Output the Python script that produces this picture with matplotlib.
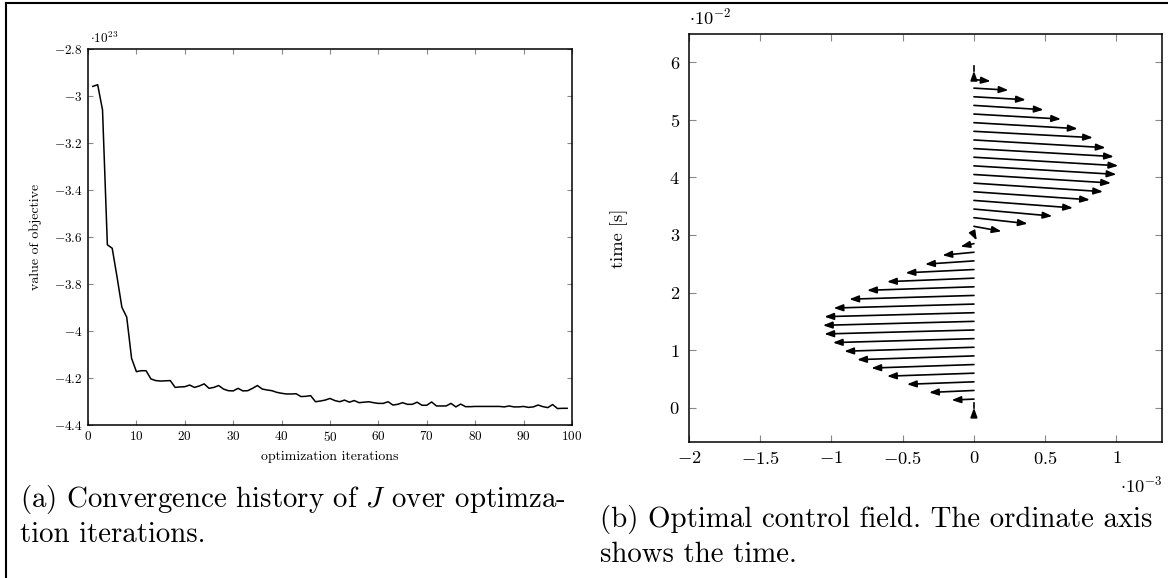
import matplotlib
matplotlib.use("Agg")
import matplotlib.pyplot as plt
from matplotlib.lines import Line2D
import numpy as np

plt.rcParams['font.family'] = 'serif'
plt.rcParams['font.serif'] = ['cmr10', 'DejaVu Serif']
plt.rcParams['mathtext.fontset'] = 'cm'
plt.rcParams['axes.unicode_minus'] = False

# ---- (a) convergence history, objective in units of 1e23
iterations = list(range(1, 100))
objective = [
    -2.959, -2.952, -3.059, -3.633, -3.648, -3.770, -3.899, -3.941, -4.116, -4.173,
    -4.169, -4.169, -4.204, -4.211, -4.213, -4.212, -4.211, -4.240, -4.238, -4.237,
    -4.230, -4.240, -4.234, -4.225, -4.244, -4.240, -4.232, -4.247, -4.254, -4.255,
    -4.244, -4.255, -4.254, -4.244, -4.232, -4.247, -4.251, -4.254, -4.261, -4.265,
    -4.268, -4.268, -4.267, -4.279, -4.278, -4.275, -4.301, -4.298, -4.294, -4.287,
    -4.296, -4.301, -4.294, -4.303, -4.296, -4.305, -4.303, -4.301, -4.305, -4.308,
    -4.308, -4.301, -4.315, -4.312, -4.305, -4.312, -4.312, -4.303, -4.316, -4.316,
    -4.302, -4.319, -4.319, -4.319, -4.308, -4.323, -4.311, -4.322, -4.322, -4.321,
    -4.321, -4.321, -4.321, -4.321, -4.321, -4.323, -4.319, -4.323, -4.323, -4.321,
    -4.325, -4.323, -4.315, -4.322, -4.326, -4.313, -4.330, -4.329, -4.329,
]
a_xticks = [0, 10, 20, 30, 40, 50, 60, 70, 80, 90, 100]
a_yticks = [-4.4, -4.2, -4.0, -3.8, -3.6, -3.4, -3.2, -3.0, -2.8]
a_yticklabels = ['-4.4', '-4.2', '-4', '-3.8', '-3.6', '-3.4', '-3.2', '-3', '-2.8']

# ---- (b) control field: time in 1e-2 s, u in 1e-3, v (small ordinate part) in 1e-2
time_e2 = [0.00, 0.15, 0.30, 0.45, 0.60, 0.75, 0.90, 1.05, 1.20, 1.35,
           1.50, 1.65, 1.80, 1.95, 2.10, 2.25, 2.40, 2.55, 2.70, 2.85,
           3.00, 3.15, 3.30, 3.45, 3.60, 3.75, 3.90, 4.05, 4.20, 4.35,
           4.50, 4.65, 4.80, 4.95, 5.10, 5.25, 5.40, 5.55, 5.70, 5.85]
u_e3 = [0.0, -0.157, -0.315, -0.47, -0.61, -0.72, -0.82, -0.91, -0.99, -1.05,
        -1.06, -1.05, -0.985, -0.875, -0.75, -0.61, -0.48, -0.343, -0.221, -0.094,
        0.02, 0.193, 0.377, 0.55, 0.695, 0.814, 0.906, 0.962, 1.0, 1.013,
        0.982, 0.924, 0.835, 0.728, 0.611, 0.489, 0.364, 0.242, 0.117, 0.0]
v_e2 = [0.0, -0.017, -0.035, -0.043, -0.052, -0.061, -0.065, -0.069, -0.069, -0.069,
        -0.069, -0.069, -0.069, -0.065, -0.061, -0.061, -0.057, -0.057, -0.052, -0.052,
        -0.095, -0.087, -0.104, -0.122, -0.13, -0.139, -0.148, -0.148, -0.148, -0.148,
        -0.139, -0.134, -0.11, -0.104, -0.087, -0.075, -0.052, -0.035, -0.03, 0.0]
b_xticks = [-2, -1.5, -1, -0.5, 0, 0.5, 1]
b_xticklabels = ['-2', '-1.5', '-1', '-0.5', '0', '0.5', '1']
b_yticks = [0, 1, 2, 3, 4, 5, 6]

fig = plt.figure(figsize=(11.68, 5.78), dpi=100)

def style_axes(ax, size, ticklen, padx, pady):
    for s in ax.spines.values():
        s.set_linewidth(1.1)
        s.set_color('black')
    ax.tick_params(direction='in', top=True, right=True, length=ticklen,
                   width=0.8, color='#888888', labelsize=size)
    ax.tick_params(axis='x', pad=padx)
    ax.tick_params(axis='y', pad=pady)

# (a)
ax1 = fig.add_axes([88 / 1168, 1 - 425 / 578, 484 / 1168, 376 / 578])
ax1.plot(iterations, objective, color='black', lw=1.1)
ax1.set_xlim(0, 100)
ax1.set_ylim(-4.4, -2.8)
ax1.set_xticks(a_xticks)
ax1.set_xticklabels(['$%d$' % v for v in a_xticks])
ax1.set_yticks(a_yticks)
ax1.set_yticklabels(['$%s$' % s for s in a_yticklabels])
style_axes(ax1, 9.5, 3.5, 3.5, 4)
ax1.set_xlabel('optimization iterations', fontsize=10)
ax1.set_ylabel('value of objective', fontsize=10)
ax1.xaxis.set_label_coords(0.5, -0.07)
ax1.yaxis.set_label_coords(-0.095, 0.5)
ax1.text(0.004, 1.008, r'$\cdot 10^{23}$', transform=ax1.transAxes,
         ha='left', va='bottom', fontsize=9.5)

# (b)
head = '-|>,head_length=0.55,head_width=0.2'
ax2 = fig.add_axes([689 / 1168, 1 - 442 / 578, 473 / 1168, 408 / 578])
for t, u, v in zip(time_e2, u_e3, v_e2):
    if u == 0 and v == 0:
        # zero vector: short stem with the tip drawn at the sample point
        ax2.plot([0, 0], [t, t + 0.09], color='black', lw=1.2)
        ax2.annotate('', xy=(0, t), xytext=(0, t - 0.1),
                     arrowprops=dict(arrowstyle=head, color='black', lw=1.2,
                                     shrinkA=0, shrinkB=0))
    else:
        ax2.annotate('', xy=(u, t + v), xytext=(0, t),
                     arrowprops=dict(arrowstyle=head, color='black', lw=1.2,
                                     shrinkA=0, shrinkB=0))
ax2.set_xlim(-2, 1.32)
ax2.set_ylim(-0.595, 6.49)
ax2.set_xticks(b_xticks)
ax2.set_xticklabels(['$%s$' % s for s in b_xticklabels])
ax2.set_yticks(b_yticks)
ax2.set_yticklabels(['$%d$' % v for v in b_yticks])
style_axes(ax2, 13.3, 5, 5.5, 6.5)
ax2.set_ylabel('time [s]', fontsize=13.3)
ax2.yaxis.set_label_coords(-0.128, 0.5)
ax2.text(0.0, 1.015, r'$\cdot 10^{-2}$', transform=ax2.transAxes,
         ha='left', va='bottom', fontsize=13.3)
ax2.text(1.0, -0.08, r'$\cdot 10^{-3}$', transform=ax2.transAxes,
         ha='right', va='top', fontsize=13.3)

# captions
cap = 20.8
fig.text(20 / 1168, 1 - 500 / 578, r'(a) Convergence history of $J$ over optimza-',
         fontsize=cap, va='center', ha='left')
fig.text(20 / 1168, 1 - 535 / 578, 'tion iterations.', fontsize=cap, va='center', ha='left')
fig.text(600 / 1168, 1 - 520 / 578, '(b) Optimal control field. The ordinate axis',
         fontsize=cap, va='center', ha='left')
fig.text(600 / 1168, 1 - 555 / 578, 'shows the time.', fontsize=cap, va='center', ha='left')

# page frame lines (top and left)
fig.add_artist(Line2D([6 / 1168, 1], [1 - 3 / 578, 1 - 3 / 578], color='black', lw=1.5))
fig.add_artist(Line2D([6 / 1168, 6 / 1168], [0, 1 - 3 / 578], color='black', lw=1.5))

fig.savefig('out.png', dpi=100)
